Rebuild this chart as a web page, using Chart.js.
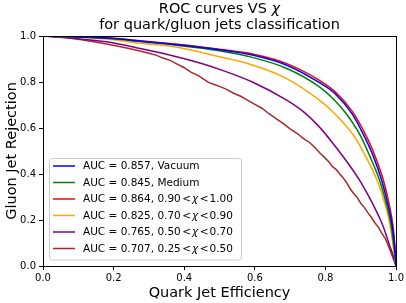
<!DOCTYPE html>
<html>
<head>
<meta charset="utf-8">
<script src="https://cdn.jsdelivr.net/npm/chart.js@4.4.1/dist/chart.umd.min.js"></script>
<style>
  html, body { margin: 0; padding: 0; background: #fff; }
  canvas { display: block; }
</style>
</head>
<body>
<canvas id="c" width="406" height="303"></canvas>
<script>
// ---------------- data ----------------
const titleLines = ['ROC curves VS χ', 'for quark/gluon jets classification'];
const xAxisLabel = 'Quark Jet Efficiency';
const yAxisLabel = 'Gluon Jet Rejection';
const tickValues = [0.0, 0.2, 0.4, 0.6, 0.8, 1.0];

const seriesLabels = [
  'AUC = 0.857, Vacuum',
  'AUC = 0.845, Medium',
  'AUC = 0.864, 0.90 < χ < 1.00',
  'AUC = 0.825, 0.70 < χ < 0.90',
  'AUC = 0.765, 0.50 < χ < 0.70',
  'AUC = 0.707, 0.25 < χ < 0.50'
];

const vacuumX = [0, 0.1, 0.2, 0.274, 0.367, 0.5, 0.593, 0.689, 0.782, 0.825, 0.876, 0.908, 0.935, 0.959, 0.976, 0.989, 0.996, 1];
const vacuumY = [1, 0.996, 0.989, 0.978, 0.964, 0.94, 0.917, 0.874, 0.798, 0.752, 0.66, 0.57, 0.48, 0.374, 0.273, 0.178, 0.084, 0];

const mediumX = [0, 0.1, 0.2, 0.274, 0.367, 0.5, 0.593, 0.689, 0.782, 0.825, 0.858, 0.898, 0.925, 0.953, 0.972, 0.986, 0.994, 1];
const mediumY = [1, 0.996, 0.988, 0.976, 0.962, 0.936, 0.907, 0.86, 0.78, 0.722, 0.664, 0.57, 0.48, 0.374, 0.273, 0.178, 0.084, 0];

const chi90X = [0, 0.1, 0.2, 0.274, 0.367, 0.45, 0.5, 0.593, 0.689, 0.782, 0.829, 0.876, 0.914, 0.935, 0.964, 0.98, 0.991, 0.997, 1];
const chi90Y = [1, 0.997, 0.99, 0.979, 0.966, 0.952, 0.942, 0.922, 0.881, 0.808, 0.755, 0.672, 0.57, 0.5, 0.374, 0.273, 0.178, 0.084, 0];

const chi70X = [0, 0.1, 0.2, 0.274, 0.367, 0.5, 0.593, 0.689, 0.782, 0.825, 0.881, 0.904, 0.946, 0.968, 0.983, 0.992, 1];
const chi70Y = [1, 0.995, 0.984, 0.968, 0.954, 0.91, 0.874, 0.816, 0.722, 0.664, 0.565, 0.505, 0.374, 0.273, 0.178, 0.084, 0];

const chi50X = [0, 0.085, 0.18, 0.274, 0.367, 0.463, 0.5, 0.593, 0.689, 0.74, 0.782, 0.825, 0.867, 0.9, 0.933, 0.962, 0.983, 0.997, 1];
const chi50Y = [1, 0.99, 0.975, 0.946, 0.914, 0.874, 0.855, 0.80, 0.722, 0.668, 0.606, 0.526, 0.44, 0.365, 0.273, 0.178, 0.084, 0.02, 0];

const chi25X = [0, 0.03, 0.06, 0.1, 0.14, 0.18, 0.22, 0.26, 0.3, 0.32, 0.34, 0.36, 0.38, 0.4, 0.42, 0.44, 0.455, 0.47, 0.485, 0.5, 0.52, 0.54, 0.56, 0.58, 0.6, 0.62, 0.64, 0.66, 0.68, 0.7, 0.72, 0.74, 0.755, 0.77, 0.785, 0.8, 0.81, 0.82, 0.83, 0.84, 0.85, 0.86, 0.87, 0.88, 0.89, 0.9, 0.91, 0.92, 0.93, 0.94, 0.95, 0.96, 0.97, 0.98, 0.99, 1];
const chi25Y = [1, 0.997, 0.993, 0.986, 0.976, 0.965, 0.953, 0.94, 0.925, 0.917, 0.904, 0.894, 0.878, 0.862, 0.842, 0.828, 0.812, 0.797, 0.789, 0.781, 0.768, 0.751, 0.738, 0.72, 0.703, 0.686, 0.662, 0.641, 0.62, 0.596, 0.576, 0.552, 0.537, 0.515, 0.49, 0.468, 0.452, 0.432, 0.42, 0.401, 0.384, 0.362, 0.336, 0.315, 0.298, 0.273, 0.255, 0.232, 0.212, 0.188, 0.168, 0.142, 0.118, 0.082, 0.04, 0];

const seriesX = [vacuumX, mediumX, chi90X, chi70X, chi50X, chi25X];
const seriesY = [vacuumY, mediumY, chi90Y, chi70Y, chi50Y, chi25Y];

// ---------------- styles ----------------
const seriesColors = ['#0000ff', '#008000', '#ff0000', '#ffa500', '#800080', '#a52a2a'];
const seriesSmooth = [true, true, true, true, true, false];
const FONT = '"DejaVu Sans", "Liberation Sans", sans-serif';

const datasets = seriesLabels.map((label, i) => ({
  label,
  data: seriesX[i].map((x, j) => ({ x, y: seriesY[i][j] })),
  borderColor: seriesColors[i],
  backgroundColor: seriesColors[i],
  borderWidth: 1.5,
  pointRadius: 0,
  tension: 0,
  cubicInterpolationMode: seriesSmooth[i] ? 'monotone' : 'default',
  fill: false
}));

function drawMixed(ctx, text, x, y, size, align) {
  const parts = text.split('χ');
  const normal = size + 'px ' + FONT;
  const italic = 'italic ' + size + 'px ' + FONT;
  const segs = [];
  parts.forEach((p, i) => {
    if (p) segs.push({ t: p, f: normal });
    if (i < parts.length - 1) segs.push({ t: 'χ', f: italic });
  });
  let total = 0;
  segs.forEach(s => { ctx.font = s.f; s.w = ctx.measureText(s.t).width; total += s.w; });
  let cx = align === 'center' ? x - total / 2 : x;
  ctx.textAlign = 'left';
  segs.forEach(s => { ctx.font = s.f; ctx.fillText(s.t, cx, y); cx += s.w; });
}

function drawLegendLabel(ctx, text, x, y, size) {
  const normal = size + 'px ' + FONT;
  const italic = 'italic ' + size + 'px ' + FONT;
  const m = text.match(/^(.*?)\s*<\s*χ\s*<\s*(.*)$/);
  let segs;
  if (m) {
    segs = [
      { t: m[1], f: normal, gap: 1.5 },
      { t: '<', f: normal, gap: 1.0 },
      { t: 'χ', f: italic, gap: 1.5 },
      { t: '<', f: normal, gap: 1.0 },
      { t: m[2], f: normal, gap: 0 }
    ];
  } else {
    segs = [{ t: text, f: normal, gap: 0 }];
  }
  let cx = x;
  ctx.textAlign = 'left';
  segs.forEach(s => { ctx.font = s.f; ctx.fillText(s.t, cx, y); cx += ctx.measureText(s.t).width + s.gap; });
}

const decorPlugin = {
  id: 'decor',
  afterDatasetsDraw(chart) {
    const ctx = chart.ctx;
    const a = chart.chartArea;
    ctx.save();
    ctx.strokeStyle = '#000';
    ctx.lineWidth = 1;
    const L = Math.round(a.left - 0.5) + 0.5, R = Math.round(a.right - 0.5) + 0.5;
    const T = Math.round(a.top - 0.5) + 0.5, B = Math.round(a.bottom - 0.5) + 0.5;
    ctx.strokeRect(L, T, R - L, B - T);

    const lx = 49.5, ly = 158.5, lw = 192, lh = 101.5, r = 3;
    ctx.beginPath();
    ctx.moveTo(lx + r, ly);
    ctx.lineTo(lx + lw - r, ly); ctx.quadraticCurveTo(lx + lw, ly, lx + lw, ly + r);
    ctx.lineTo(lx + lw, ly + lh - r); ctx.quadraticCurveTo(lx + lw, ly + lh, lx + lw - r, ly + lh);
    ctx.lineTo(lx + r, ly + lh); ctx.quadraticCurveTo(lx, ly + lh, lx, ly + lh - r);
    ctx.lineTo(lx, ly + r); ctx.quadraticCurveTo(lx, ly, lx + r, ly);
    ctx.closePath();
    ctx.fillStyle = 'rgba(255,255,255,0.8)';
    ctx.fill();
    ctx.strokeStyle = '#cccccc';
    ctx.stroke();

    ctx.textBaseline = 'middle';
    chart.data.datasets.forEach((ds, i) => {
      const yy = 166 + i * 16.5;
      ctx.strokeStyle = ds.borderColor;
      ctx.lineWidth = 1.5;
      ctx.beginPath();
      ctx.moveTo(53, yy); ctx.lineTo(75, yy);
      ctx.stroke();
      ctx.fillStyle = '#000';
      drawLegendLabel(ctx, ds.label, 83, yy + 0.5, 10.5);
    });

    ctx.textBaseline = 'alphabetic';
    ctx.fillStyle = '#000';
    const cx = (a.left + a.right) / 2;
    drawMixed(ctx, titleLines[0], cx, 12.5, 14.5, 'center');
    drawMixed(ctx, titleLines[1], cx, 28.5, 14.5, 'center');
    ctx.restore();
  }
};

const tickFont = { family: FONT, size: 10 };
const titleFont = { family: FONT, size: 14.5 };

new Chart(document.getElementById('c'), {
  type: 'line',
  data: { datasets },
  plugins: [decorPlugin],
  options: {
    responsive: false,
    animation: false,
    events: [],
    layout: { padding: { top: 36, right: 9, left: 0, bottom: 0 } },
    plugins: { legend: { display: false }, title: { display: false }, tooltip: { enabled: false } },
    scales: {
      x: {
        type: 'linear', min: 0, max: 1,
        afterBuildTicks: s => { s.ticks = tickValues.map(v => ({ value: v })); },
        ticks: { callback: v => v.toFixed(1), color: '#000', font: tickFont, padding: 2, maxRotation: 0, autoSkip: false },
        grid: { drawOnChartArea: false, drawTicks: true, tickLength: 4, color: '#000', lineWidth: 1 },
        border: { display: true, color: '#000', width: 1 },
        title: { display: true, text: xAxisLabel, color: '#000', font: titleFont, padding: { top: 0, bottom: 1.3 } },
        afterFit: s => { s.height = 37; }
      },
      y: {
        type: 'linear', min: 0, max: 1,
        afterBuildTicks: s => { s.ticks = tickValues.map(v => ({ value: v })); },
        ticks: { callback: v => v.toFixed(1), color: '#000', font: tickFont, padding: 3, autoSkip: false },
        grid: { drawOnChartArea: false, drawTicks: true, tickLength: 4, color: '#000', lineWidth: 1 },
        border: { display: true, color: '#000', width: 1 },
        title: { display: true, text: yAxisLabel, color: '#000', font: titleFont, padding: { top: 3.3, bottom: 0 } },
        afterFit: s => { s.width = 43; }
      }
    }
  }
});
</script>
</body>
</html>
